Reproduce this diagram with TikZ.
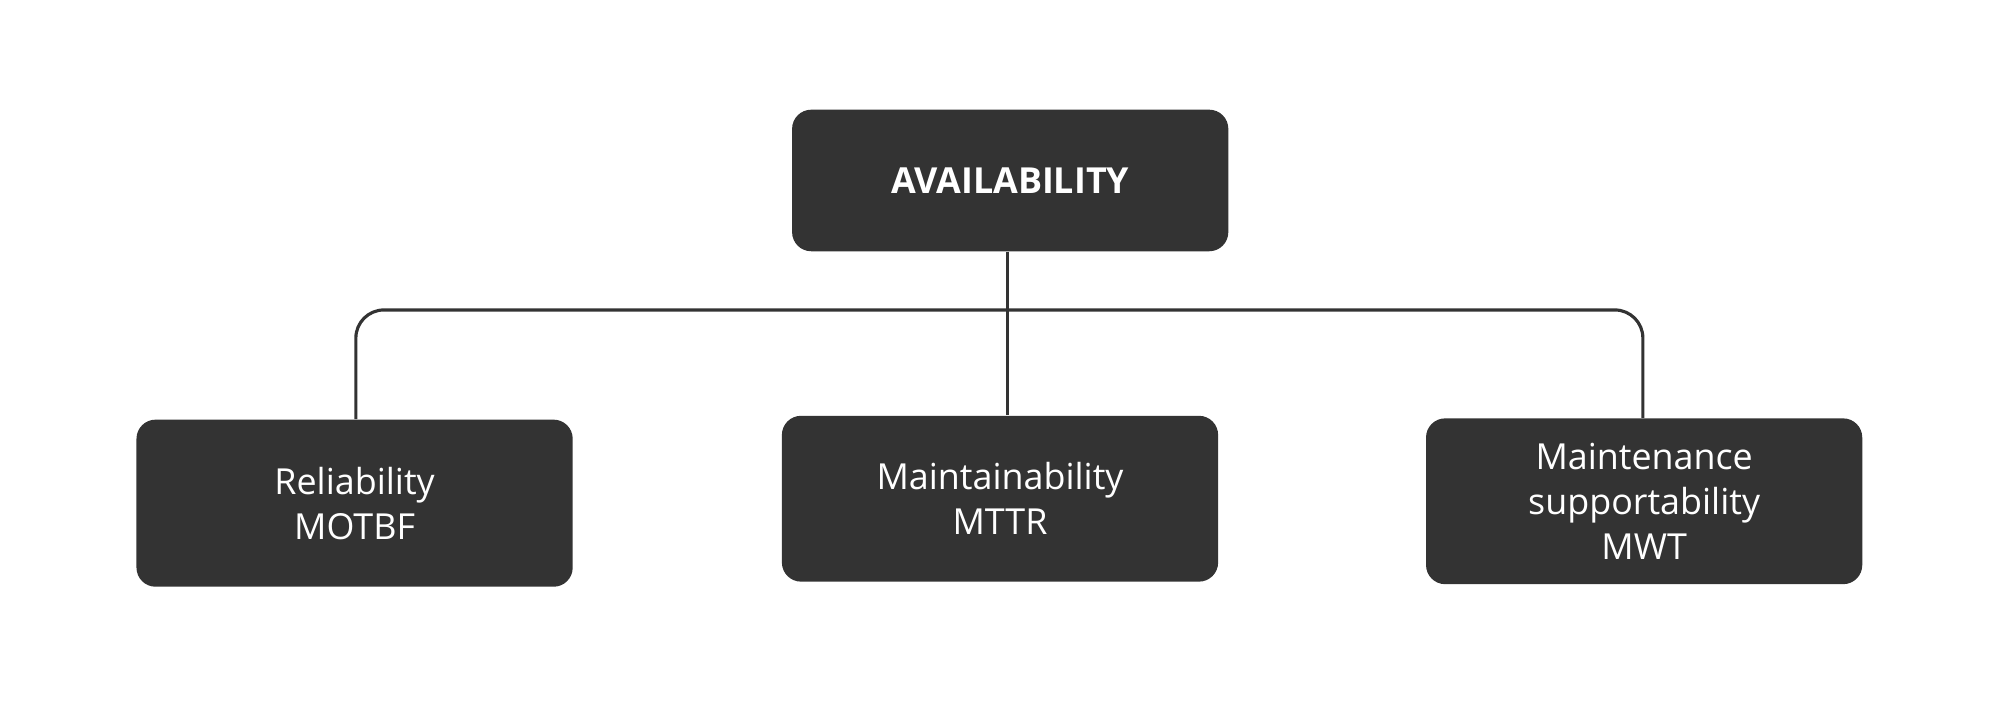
\documentclass[tikz,border=0pt]{standalone}
\usepackage{fontspec}
\setmainfont{Open Sans}
\begin{document}
\begin{tikzpicture}[x=0.02cm,y=-0.02cm,
  box/.style={fill=boxc,rounded corners=0.3cm,text=white,align=center,font=\fontsize{16}{20}\selectfont,minimum width=342*0.02cm,inner sep=0pt},
  conn/.style={draw=boxc,line width=1.4pt}]
\definecolor{boxc}{HTML}{333333}
\useasboundingbox (0,0) rectangle (1568,570);
\node[box,minimum height=111*0.02cm,font=\fontsize{16}{20}\selectfont\bfseries] (top) at (792,141.5) {AVAILABILITY};
\node[box,minimum height=131*0.02cm] (rel) at (278,394.5) {Reliability\\MOTBF};
\node[box,minimum height=130*0.02cm] (mai) at (784,391) {Maintainability\\MTTR};
\node[box,minimum height=130*0.02cm] (sup) at (1289,393) {Maintenance\\supportability\\MWT};
\coordinate (j) at (790,243);
\draw[conn] (top.south -| j) -- (mai.north -| j);
\draw[conn,rounded corners=0.44cm] (rel.north -| 279,0) |- (j) -| (sup.north -| 1288,0);
\end{tikzpicture}
\end{document}
